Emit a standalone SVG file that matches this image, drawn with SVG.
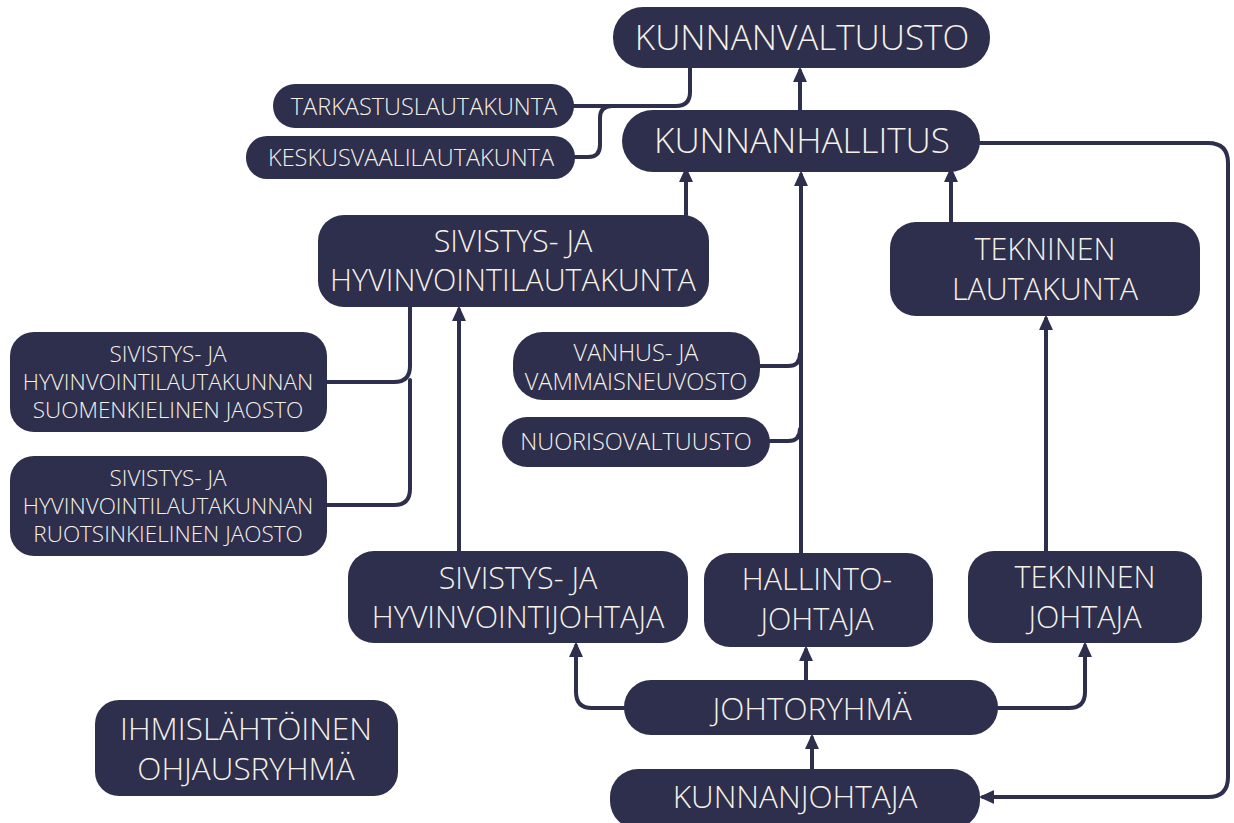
<svg xmlns="http://www.w3.org/2000/svg" width="1234" height="823" viewBox="0 0 1234 823">
<style>
.n{fill:#2d2f4d}
.t{font-family:"Open Sans","Liberation Sans",sans-serif;font-weight:300;fill:#f6f1e7;text-anchor:middle}
.xl{font-size:35px}
.l{font-size:30.5px}
.lb{font-size:31.5px}
.m{font-size:23.5px}
.s{font-size:22.5px}
.c{fill:none;stroke:#2d2f4d;stroke-width:4;stroke-linecap:round;stroke-linejoin:round}
</style>
<defs>
<marker id="a" viewBox="0 0 10 10" refX="8" refY="5" markerWidth="3.4" markerHeight="3.4" orient="auto-start-reverse" markerUnits="strokeWidth">
<path d="M0,0.5 L10,5 L0,9.5 Z" fill="#2d2f4d" stroke="#2d2f4d" stroke-width="1" stroke-linejoin="round"/>
</marker>
</defs>
<rect width="1234" height="823" fill="#ffffff"/>
<g id="connectors">
<path class="c" d="M800,110 V71" marker-end="url(#a)"/>
<path class="c" d="M574,106 H676 Q690,106 690,92 V68"/>
<path class="c" d="M575,157 H588 Q600,157 600,145 V118 Q600,106 612,106"/>
<path class="c" d="M686,215 V171" marker-end="url(#a)"/>
<path class="c" d="M951,222 V171" marker-end="url(#a)"/>
<path class="c" d="M801,553 V175" marker-end="url(#a)"/>
<path class="c" d="M760,366 H788 Q800,366 800,354"/>
<path class="c" d="M770,441 H788 Q800,441 800,429"/>
<path class="c" d="M459,551 V310" marker-end="url(#a)"/>
<path class="c" d="M327,382 H394 Q410,382 410,366 V307"/>
<path class="c" d="M327,505 H394 Q410,505 410,489 V380"/>
<path class="c" d="M1046,551 V319" marker-end="url(#a)"/>
<path class="c" d="M980,143 H1208 Q1228,143 1228,163 V777 Q1228,797 1208,797 H983" marker-end="url(#a)"/>
<path class="c" d="M624,708 H592 Q576,708 576,692 V646" marker-end="url(#a)"/>
<path class="c" d="M806,680 V650" marker-end="url(#a)"/>
<path class="c" d="M998,708 H1069 Q1085,708 1085,692 V646" marker-end="url(#a)"/>
<path class="c" d="M812,769 V738" marker-end="url(#a)"/>
</g>
<g id="kunnanvaltuusto"><rect class="n" x="613" y="7" width="377" height="61" rx="30"/><text class="t xl" x="802" y="50">KUNNANVALTUUSTO</text></g>
<g id="kunnanhallitus"><rect class="n" x="622" y="110" width="358" height="62" rx="31"/><text class="t xl" x="802" y="153">KUNNANHALLITUS</text></g>
<g id="tarkastuslautakunta"><rect class="n" x="273" y="84" width="301" height="44" rx="22"/><text class="t m" x="424" y="115">TARKASTUSLAUTAKUNTA</text></g>
<g id="keskusvaalilautakunta"><rect class="n" x="246" y="136" width="329" height="43" rx="21"/><text class="t m" x="411" y="166">KESKUSVAALILAUTAKUNTA</text></g>
<g id="sivistyslautakunta"><rect class="n" x="318" y="215" width="391" height="92" rx="26"/><text class="t l" x="513" y="252">SIVISTYS- JA</text><text class="t l" x="513" y="291">HYVINVOINTILAUTAKUNTA</text></g>
<g id="tekninenlautakunta"><rect class="n" x="890" y="222" width="310" height="94" rx="26"/><text class="t l" x="1045" y="260">TEKNINEN</text><text class="t l" x="1045" y="300">LAUTAKUNTA</text></g>
<g id="suomenkielinen"><rect class="n" x="10" y="332" width="317" height="100" rx="24"/><text class="t s" x="168" y="362">SIVISTYS- JA</text><text class="t s" x="168" y="390">HYVINVOINTILAUTAKUNNAN</text><text class="t s" x="168" y="418">SUOMENKIELINEN JAOSTO</text></g>
<g id="ruotsinkielinen"><rect class="n" x="10" y="456" width="317" height="100" rx="24"/><text class="t s" x="168" y="486">SIVISTYS- JA</text><text class="t s" x="168" y="514">HYVINVOINTILAUTAKUNNAN</text><text class="t s" x="168" y="542">RUOTSINKIELINEN JAOSTO</text></g>
<g id="vanhusneuvosto"><rect class="n" x="513" y="332" width="247" height="68" rx="30"/><text class="t m" x="636" y="361">VANHUS- JA</text><text class="t m" x="636" y="390">VAMMAISNEUVOSTO</text></g>
<g id="nuorisovaltuusto"><rect class="n" x="502" y="417" width="268" height="50" rx="25"/><text class="t m" x="636" y="450">NUORISOVALTUUSTO</text></g>
<g id="sivistysjohtaja"><rect class="n" x="348" y="551" width="340" height="92" rx="26"/><text class="t l" x="518" y="589">SIVISTYS- JA</text><text class="t l" x="518" y="628">HYVINVOINTIJOHTAJA</text></g>
<g id="hallintojohtaja"><rect class="n" x="704" y="553" width="229" height="94" rx="26"/><text class="t l" x="817" y="590">HALLINTO-</text><text class="t l" x="817" y="630">JOHTAJA</text></g>
<g id="tekninenjohtaja"><rect class="n" x="968" y="551" width="234" height="92" rx="26"/><text class="t l" x="1085" y="588">TEKNINEN</text><text class="t l" x="1085" y="628">JOHTAJA</text></g>
<g id="johtoryhma"><rect class="n" x="624" y="680" width="374" height="55" rx="27"/><text class="t lb" x="812" y="720">JOHTORYHMÄ</text></g>
<g id="kunnanjohtaja"><rect class="n" x="610" y="769" width="370" height="60" rx="28"/><text class="t lb" x="795" y="808">KUNNANJOHTAJA</text></g>
<g id="ohjausryhma"><rect class="n" x="95" y="700" width="303" height="96" rx="24"/><text class="t lb" x="246" y="740">IHMISLÄHTÖINEN</text><text class="t lb" x="246" y="780">OHJAUSRYHMÄ</text></g>
</svg>
